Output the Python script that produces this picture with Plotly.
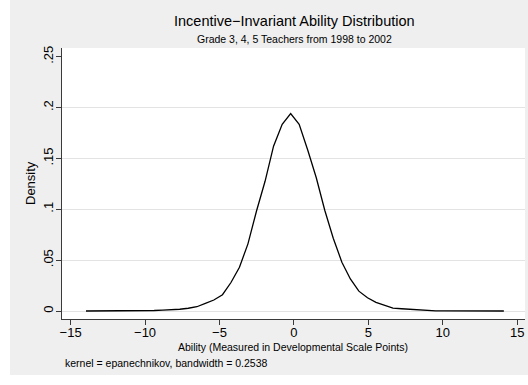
import plotly.graph_objects as go

# Evaluation points of the kernel density
ability = [-13.97, -13.40, -12.83, -12.25, -11.68, -11.11, -10.53, -9.96, -9.39, -8.81,
           -8.24, -7.67, -7.10, -6.52, -5.95, -5.38, -4.80, -4.23, -3.66, -3.09,
           -2.51, -1.94, -1.37, -0.79, -0.22, 0.35, 0.93, 1.50, 2.07, 2.64,
           3.22, 3.79, 4.36, 4.94, 5.51, 6.08, 6.65, 7.23, 7.80, 8.37,
           8.95, 9.52, 10.09, 10.66, 11.24, 11.81, 12.38, 12.95, 13.53, 14.10]
density = [0.0000, 0.0000, 0.0000, 0.0000, 0.0001, 0.0001, 0.0002, 0.0003, 0.0005, 0.0008,
           0.0011, 0.0017, 0.0027, 0.0042, 0.0075, 0.0108, 0.0160, 0.0280, 0.0430, 0.0660,
           0.0985, 0.1275, 0.1620, 0.1835, 0.1940, 0.1835, 0.1580, 0.1310, 0.0990, 0.0715,
           0.0480, 0.0315, 0.0195, 0.0130, 0.0085, 0.0055, 0.0028, 0.0022, 0.0017, 0.0008,
           0.0003, 0.0002, 0.0001, 0.0001, 0.0001, 0.0000, 0.0000, 0.0000, 0.0000, 0.0000]

x_ticks = [-15, -10, -5, 0, 5, 10, 15]
y_ticks = [0, 0.05, 0.10, 0.15, 0.20, 0.25]
y_tick_labels = ["0", ".05", ".1", ".15", ".2", ".25"]
y_grid = [0, 0.05, 0.10, 0.15, 0.20]

title = "Incentive\u2212Invariant Ability Distribution"
subtitle = "Grade 3, 4, 5 Teachers from 1998 to 2002"
x_title = "Ability (Measured in Developmental Scale Points)"
y_title = "Density"
note = "kernel = epanechnikov, bandwidth = 0.2538"

W, H = 528, 385
L, R, T, B = 62, 525, 48, 319  # plot area in pixels


def px(x):
    return (x - L) / (R - L)


def py(y):
    return (B - y) / (B - T)


FONT = "Liberation Sans, Arial, sans-serif"
AXIS_COL = "#3a3a3a"

fig = go.Figure()
fig.add_trace(go.Scatter(x=ability, y=density, mode="lines",
                         line=dict(color="black", width=1.3),
                         showlegend=False, hoverinfo="skip"))
# invisible trace to activate the grid axis
fig.add_trace(go.Scatter(x=[ability[0]], y=[density[0]], yaxis="y2", mode="markers",
                         marker=dict(opacity=0), showlegend=False, hoverinfo="skip"))

yr = [-0.00786, 0.2585]
fig.update_layout(
    width=W, height=H,
    margin=dict(l=L, r=W - R, t=T, b=H - B, pad=0),
    paper_bgcolor="#efefef",
    plot_bgcolor="white",
    font=dict(family=FONT, color="black", size=13),
    xaxis=dict(range=[-15.58, 15.52], tickvals=x_ticks, showgrid=False, zeroline=False,
               showline=True, linecolor=AXIS_COL, linewidth=1,
               ticks="outside", ticklen=5, tickwidth=1, tickcolor=AXIS_COL,
               ticklabelstandoff=-4,
               tickfont=dict(size=13, family=FONT, color="black")),
    yaxis=dict(range=yr, tickvals=y_ticks, ticktext=y_tick_labels, showgrid=False,
               zeroline=False, showline=True, linecolor=AXIS_COL, linewidth=1,
               ticks="outside", ticklen=5, tickwidth=1, tickcolor=AXIS_COL,
               ticklabelstandoff=-2,
               tickangle=-90, tickfont=dict(size=13, family=FONT, color="black")),
    yaxis2=dict(range=yr, overlaying="y", tickvals=y_grid, showgrid=True,
                gridcolor="#e3e3e3", gridwidth=1, showticklabels=False, ticks="",
                zeroline=False, showline=False, layer="below traces"),
    shapes=[
        dict(type="rect", xref="paper", yref="paper", x0=px(0), x1=px(10),
             y0=py(H), y1=py(0), fillcolor="white", line=dict(width=0), layer="below"),
        dict(type="rect", xref="paper", yref="paper", x0=px(0), x1=px(W),
             y0=py(H), y1=py(375), fillcolor="white", line=dict(width=0), layer="below"),
    ],
    annotations=[
        dict(text=title, xref="paper", yref="paper", x=px(294), y=py(21),
             xanchor="center", yanchor="middle", showarrow=False,
             font=dict(size=14.5, family=FONT, color="black")),
        dict(text=subtitle, xref="paper", yref="paper", x=px(294), y=py(39),
             xanchor="center", yanchor="middle", showarrow=False,
             font=dict(size=10.5, family=FONT, color="black")),
        dict(text=x_title, xref="paper", yref="paper", x=px(293), y=py(347),
             xanchor="center", yanchor="middle", showarrow=False,
             font=dict(size=10.5, family=FONT, color="black")),
        dict(text=y_title, xref="paper", yref="paper", x=px(30), y=py(183),
             xanchor="center", yanchor="middle", showarrow=False, textangle=-90,
             font=dict(size=13, family=FONT, color="black")),
        dict(text=note, xref="paper", yref="paper", x=px(63), y=py(363),
             xanchor="left", yanchor="middle", showarrow=False,
             font=dict(size=10.5, family=FONT, color="black")),
    ],
)

fig.write_html("out.html")
